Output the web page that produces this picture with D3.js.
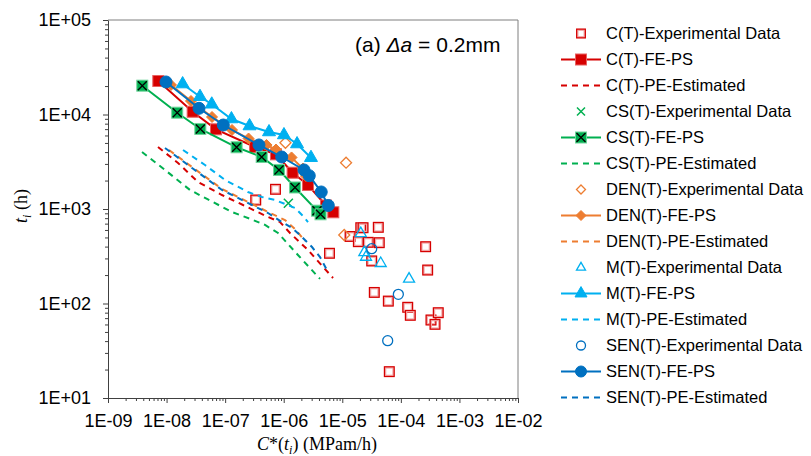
<!DOCTYPE html>
<html>
<head>
<meta charset="utf-8">
<script src="https://cdn.jsdelivr.net/npm/d3@7"></script>
<style>
  body { margin: 0; background: #fff; }
  svg { display: block; }
  text { font-family: "Liberation Sans", Arial, sans-serif; fill: #000; }
  .serif { font-family: "Liberation Serif", "Times New Roman", serif; }
</style>
</head>
<body>
<svg id="chart" width="811" height="456"></svg>
<script>
// ---- axis tick labels ----
const xTickValues = [1e-9, 1e-8, 1e-7, 1e-6, 1e-5, 1e-4, 1e-3, 1e-2];
const xTickLabels = ["1E-09", "1E-08", "1E-07", "1E-06", "1E-05", "1E-04", "1E-03", "1E-02"];
const yTickValues = [1e1, 1e2, 1e3, 1e4, 1e5];
const yTickLabels = ["1E+01", "1E+02", "1E+03", "1E+04", "1E+05"];

// ---- C(T) ----
const cExpX = [3.33e-7, 7.24e-7, 6.05e-6, 1.36e-5, 1.88e-5, 2.07e-5, 2.26e-5, 2.78e-5, 4.12e-5, 4.28e-5, 3.18e-5,
               3.52e-5, 6.11e-5, 1.31e-4, 1.45e-4, 2.65e-4, 2.87e-4, 3.27e-4, 3.83e-4, 4.35e-4, 6.35e-5];
const cExpY = [1245, 1616, 340, 512, 451, 634, 634, 444, 640, 440, 282,
               131, 106, 91.2, 75.0, 399, 226, 66.9, 60.2, 79.9, 19.0];
const cFeX = [7.23e-9, 2.79e-8, 6.98e-8, 3.24e-7, 7.38e-7, 1.42e-6, 2.60e-6, 5.27e-6, 7.03e-6];
const cFeY = [22620, 10700, 6970, 4530, 3790, 2420, 1795, 1089, 923];
const cPeX = [7.14e-9, 1.57e-8, 3.44e-8, 8.83e-8, 2.02e-7, 5.40e-7, 8.65e-7, 1.28e-6, 2.60e-6, 6.95e-6];
const cPeY = [4530, 3070, 1930, 1406, 1102, 823, 728, 557, 368, 186];

// ---- CS(T) ----
const csExpX = [1.20e-6];
const csExpY = [1148];
const csFeX = [3.85e-9, 1.52e-8, 3.77e-8, 1.57e-7, 4.21e-7, 8.31e-7, 1.56e-6, 3.70e-6, 4.25e-6];
const csFeY = [20180, 10450, 7030, 4500, 3550, 2590, 1690, 960, 879];
const csPeX = [3.81e-9, 9.40e-9, 2.51e-8, 4.90e-8, 1.31e-7, 2.99e-7, 4.80e-7, 8.00e-7, 1.75e-6, 4.17e-6];
const csPeY = [4010, 2590, 1590, 1277, 929, 765, 678, 557, 326, 182];

// ---- DEN(T) ----
const denExpX = [1.07e-6, 1.16e-5, 1.08e-5];
const denExpY = [5020, 3090, 531];
const denFeX = [1.19e-8, 2.61e-8, 5.97e-8, 1.31e-7, 2.51e-7, 5.08e-7, 7.38e-7, 1.36e-6, 2.13e-6, 2.40e-6];
const denFeY = [20520, 13900, 9410, 6860, 5570, 4760, 4260, 3510, 2680, 2230];
const denPeX = [1.10e-8, 2.72e-8, 8.83e-8, 2.88e-7, 5.40e-7, 1.05e-6, 1.56e-6, 2.31e-6];
const denPeY = [4210, 2780, 1629, 1130, 929, 765, 614, 458];

// ---- M(T) ----
const mExpX = [2.07e-5, 2.38e-5, 2.54e-5, 4.53e-5, 1.38e-4];
const mExpY = [551, 347, 310, 266, 182];
const mFeX = [1.88e-8, 3.72e-8, 5.91e-8, 1.28e-7, 2.61e-7, 5.61e-7, 1.01e-6, 1.69e-6, 2.92e-6];
const mFeY = [21000, 15430, 12830, 8960, 7550, 6530, 6070, 4870, 3490];
const mPeX = [1.91e-8, 4.53e-8, 9.95e-8, 2.45e-7, 4.25e-7, 7.10e-7, 1.56e-6, 2.05e-6, 2.60e-6];
const mPeY = [4210, 2920, 2030, 1514, 1340, 1245, 1025, 864, 728];

// ---- SEN(T) ----
const senExpX = [3.18e-5, 9.06e-5, 5.96e-5];
const senExpY = [380, 125, 40.4];
const senFeX = [9.78e-9, 3.58e-8, 9.30e-8, 3.78e-7, 9.24e-7, 2.22e-6, 2.73e-6, 4.37e-6, 5.77e-6];
const senFeY = [22080, 11630, 7740, 4760, 3550, 2590, 2250, 1514, 1089];
const senPeX = [9.40e-9, 2.72e-8, 8.83e-8, 2.88e-7, 5.40e-7, 9.35e-7, 1.39e-6, 2.05e-6, 3.04e-6, 4.17e-6, 5.70e-6];
const senPeY = [4420, 2720, 1590, 1102, 907, 728, 630, 506, 396, 310, 215];

const colors = { c: "#D60000", cs: "#00B050", den: "#ED7D31", m: "#00B0F0", sen: "#0070C0" };

const zip = (xs, ys) => xs.map((x, i) => [x, ys[i]]);

const series = [
  { name: "C(T)-Experimental Data", kind: "exp", shape: "square", color: colors.c, pts: zip(cExpX, cExpY) },
  { name: "C(T)-FE-PS", kind: "fe", shape: "square", color: colors.c, pts: zip(cFeX, cFeY) },
  { name: "C(T)-PE-Estimated", kind: "pe", color: colors.c, pts: zip(cPeX, cPeY) },
  { name: "CS(T)-Experimental Data", kind: "exp", shape: "x", color: colors.cs, pts: zip(csExpX, csExpY) },
  { name: "CS(T)-FE-PS", kind: "fe", shape: "xsquare", color: colors.cs, pts: zip(csFeX, csFeY) },
  { name: "CS(T)-PE-Estimated", kind: "pe", color: colors.cs, pts: zip(csPeX, csPeY) },
  { name: "DEN(T)-Experimental Data", kind: "exp", shape: "diamond", color: colors.den, pts: zip(denExpX, denExpY) },
  { name: "DEN(T)-FE-PS", kind: "fe", shape: "diamond", color: colors.den, pts: zip(denFeX, denFeY) },
  { name: "DEN(T)-PE-Estimated", kind: "pe", color: colors.den, pts: zip(denPeX, denPeY) },
  { name: "M(T)-Experimental Data", kind: "exp", shape: "triangle", color: colors.m, pts: zip(mExpX, mExpY) },
  { name: "M(T)-FE-PS", kind: "fe", shape: "triangle", color: colors.m, pts: zip(mFeX, mFeY) },
  { name: "M(T)-PE-Estimated", kind: "pe", color: colors.m, pts: zip(mPeX, mPeY) },
  { name: "SEN(T)-Experimental Data", kind: "exp", shape: "circle", color: colors.sen, pts: zip(senExpX, senExpY) },
  { name: "SEN(T)-FE-PS", kind: "fe", shape: "circle", color: colors.sen, pts: zip(senFeX, senFeY) },
  { name: "SEN(T)-PE-Estimated", kind: "pe", color: colors.sen, pts: zip(senPeX, senPeY) }
];

const svg = d3.select("#chart");
const plot = { left: 108, right: 518, top: 20, bottom: 398 };

const x = d3.scaleLog().domain([1e-9, 1e-2]).range([plot.left, plot.right]);
const y = d3.scaleLog().domain([1e1, 1e5]).range([plot.bottom, plot.top]);

// minor tick values: 2..9 within each decade
const minorX = [];
for (let e = -9; e < -2; e++) for (let k = 2; k <= 9; k++) minorX.push(k * Math.pow(10, e));
const minorY = [];
for (let e = 1; e < 5; e++) for (let k = 2; k <= 9; k++) minorY.push(k * Math.pow(10, e));

// frame (top and right edges)
svg.append("path")
  .attr("d", `M${plot.left},${plot.top}H${plot.right}V${plot.bottom}`)
  .attr("fill", "none").attr("stroke", "#7f7f7f").attr("stroke-width", 1);

// x axis
const gx = svg.append("g").attr("transform", `translate(0,${plot.bottom})`);
gx.append("g").call(d3.axisBottom(x).tickValues(minorX).tickSize(3).tickFormat(""))
  .call(g => g.select(".domain").remove());
gx.append("g").call(d3.axisBottom(x).tickValues(xTickValues).tickSize(5).tickSizeOuter(0).tickPadding(11)
    .tickFormat((d, i) => xTickLabels[i]))
  .call(g => g.selectAll("text").style("font-size", "18px").attr("fill", "#000"));
gx.selectAll("line, path").attr("stroke", "#404040");

// y axis
const gy = svg.append("g").attr("transform", `translate(${plot.left},0)`);
gy.append("g").call(d3.axisLeft(y).tickValues(minorY).tickSize(3).tickFormat(""))
  .call(g => g.select(".domain").remove());
gy.append("g").call(d3.axisLeft(y).tickValues(yTickValues).tickSize(5).tickSizeOuter(0).tickPadding(12)
    .tickFormat((d, i) => yTickLabels[i]))
  .call(g => g.selectAll("text").style("font-size", "18px").attr("fill", "#000"));
gy.selectAll("line, path").attr("stroke", "#404040");

// axis titles
const xt = svg.append("text").attr("class", "serif").attr("x", 317).attr("y", 450)
  .attr("text-anchor", "middle").style("font-size", "18px");
xt.append("tspan").style("font-style", "italic").text("C");
xt.append("tspan").text("*(");
xt.append("tspan").style("font-style", "italic").text("t");
xt.append("tspan").style("font-style", "italic").style("font-size", "12px").attr("dy", 4).text("i");
xt.append("tspan").attr("dy", -4).text(") (MPam/h)");

const yt = svg.append("text").attr("class", "serif")
  .attr("transform", "translate(27,206) rotate(-90)")
  .attr("text-anchor", "middle").style("font-size", "18px");
yt.append("tspan").style("font-style", "italic").text("t");
yt.append("tspan").style("font-style", "italic").style("font-size", "12px").attr("dy", 4).text("i");
yt.append("tspan").attr("dy", -4).text(" (h)");

// in-plot title
const tt = svg.append("text").attr("x", 355).attr("y", 52).style("font-size", "21px");
tt.append("tspan").text("(a) ");
tt.append("tspan").style("font-style", "italic").text("Δa");
tt.append("tspan").text(" = 0.2mm");

// marker drawing
function drawMarker(g, shape, kind, color, size) {
  const s = size;
  if (shape === "square") {
    if (kind === "exp") {
      g.append("rect").attr("x", -s / 2).attr("y", -s / 2).attr("width", s).attr("height", s)
        .attr("fill", "none").attr("stroke", "#f2a8a8").attr("stroke-width", 2.4);
      g.append("rect").attr("x", -s / 2 - 0.6).attr("y", -s / 2 - 0.6).attr("width", s + 1.2).attr("height", s + 1.2)
        .attr("fill", "none").attr("stroke", color).attr("stroke-width", 1.2);
    } else {
      g.append("rect").attr("x", -s / 2).attr("y", -s / 2).attr("width", s).attr("height", s)
        .attr("fill", color).attr("stroke", "#e86060").attr("stroke-width", 1);
    }
  } else if (shape === "xsquare") {
    g.append("rect").attr("x", -s / 2).attr("y", -s / 2).attr("width", s).attr("height", s)
      .attr("fill", color).attr("stroke", "#6fd49a").attr("stroke-width", 1);
    const r = s / 2 - 1;
    g.append("path").attr("d", `M${-r},${-r}L${r},${r}M${r},${-r}L${-r},${r}`)
      .attr("stroke", "#000").attr("stroke-width", 1.3);
  } else if (shape === "x") {
    const r = s / 2;
    g.append("path").attr("d", `M${-r},${-r}L${r},${r}M${r},${-r}L${-r},${r}`)
      .attr("stroke", color).attr("stroke-width", 1.5);
  } else if (shape === "diamond") {
    const r = s / 2;
    g.append("path").attr("d", `M0,${-r}L${r},0L0,${r}L${-r},0Z`)
      .attr("fill", kind === "exp" ? "none" : color).attr("stroke", color).attr("stroke-width", kind === "exp" ? 1.3 : 1);
  } else if (shape === "triangle") {
    const h = s * 0.866;
    g.append("path").attr("d", `M0,${-h * 2 / 3}L${s / 2},${h / 3}L${-s / 2},${h / 3}Z`)
      .attr("fill", kind === "exp" ? "none" : color).attr("stroke", color).attr("stroke-width", kind === "exp" ? 1.3 : 1);
  } else if (shape === "circle") {
    g.append("circle").attr("r", s / 2)
      .attr("fill", kind === "exp" ? "none" : color).attr("stroke", color).attr("stroke-width", kind === "exp" ? 1.3 : 1);
  }
}

const sizes = {
  exp: { square: 8.5, x: 9, diamond: 11, triangle: 11, circle: 10 },
  fe: { square: 11, xsquare: 11, diamond: 11, triangle: 13, circle: 12 },
  legendExp: { square: 7.5, x: 8, diamond: 9, triangle: 9, circle: 9 },
  legendFe: { square: 11, xsquare: 11, diamond: 10, triangle: 12, circle: 11 }
};

const line = d3.line().x(d => x(d[0])).y(d => y(d[1]));
const plotG = svg.append("g");

series.forEach(s => {
  if (s.kind === "fe" || s.kind === "pe") {
    plotG.append("path").datum(s.pts).attr("d", line)
      .attr("fill", "none").attr("stroke", s.color).attr("stroke-width", 2)
      .attr("stroke-dasharray", s.kind === "pe" ? "6,5" : null);
  }
  if (s.kind === "fe" || s.kind === "exp") {
    s.pts.forEach(p => {
      const g = plotG.append("g").attr("transform", `translate(${x(p[0])},${y(p[1])})`);
      drawMarker(g, s.shape, s.kind, s.color, sizes[s.kind][s.shape]);
    });
  }
});

// legend
const legend = svg.append("g");
series.forEach((s, i) => {
  const ly = 33.5 + i * 26;
  const g = legend.append("g").attr("transform", `translate(0,${ly})`);
  if (s.kind !== "exp") {
    g.append("line").attr("x1", 561).attr("x2", 601).attr("y1", 0).attr("y2", 0)
      .attr("stroke", s.color).attr("stroke-width", 2)
      .attr("stroke-dasharray", s.kind === "pe" ? "6,5" : null);
  }
  if (s.kind !== "pe") {
    const m = g.append("g").attr("transform", "translate(581,0)");
    drawMarker(m, s.shape, s.kind, s.color, s.kind === "exp" ? sizes.legendExp[s.shape] : sizes.legendFe[s.shape]);
  }
  g.append("text").attr("x", 606).attr("y", 0).attr("dy", "0.35em")
    .style("font-size", "16.5px").text(s.name);
});
</script>
</body>
</html>
